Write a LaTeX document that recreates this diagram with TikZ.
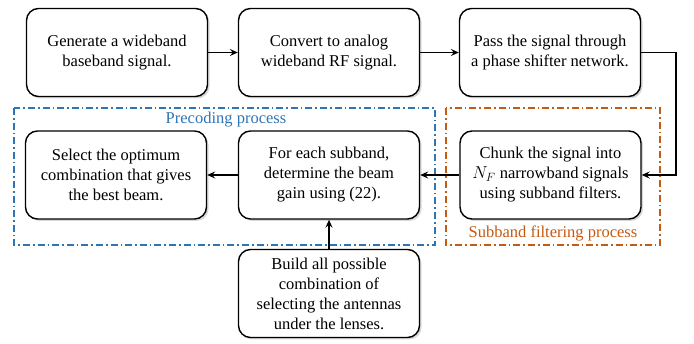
\documentclass[tikz,border=0pt]{standalone}
\usepackage{fontspec}
\setmainfont{Liberation Serif}
\usetikzlibrary{arrows.meta,shadows}
\definecolor{precblue}{RGB}{46,117,182}
\definecolor{filtorange}{RGB}{197,90,17}
\tikzset{
  stepbox/.style={draw=black, line width=1.4pt, rounded corners=12pt, fill=white,
    minimum width=181pt, minimum height=88pt, inner sep=0pt, align=center,
    font=\fontsize{16.5}{20}\selectfont,
    drop shadow={shadow xshift=2pt, shadow yshift=-2pt, opacity=0.3}},
  flow/.style={line width=1.3pt, -{Stealth[length=8pt,width=7pt,inset=3pt]}},
  groupframe/.style={line width=1.8pt, dash pattern=on 7pt off 3pt on 1.6pt off 3pt},
  grouplabel/.style={font=\fontsize{16.5}{20}\selectfont, inner sep=0pt}
}
\begin{document}
\begin{tikzpicture}[x=1pt,y=-1pt]
\useasboundingbox (0,0) rectangle (694,344);

% group frames
\draw[groupframe, precblue] (14,108) rectangle (435,245);
\draw[groupframe, filtorange] (446,108) rectangle (660,245);
\node[grouplabel, text=precblue] (plabel) at (226,120) {Precoding process};
\node[grouplabel, text=filtorange] (flabel) at (553,233) {Subband filtering process};

% processing steps
\node[stepbox] (gen) at (117,52.5) {Generate a wideband\\baseband signal.};
\node[stepbox] (conv) at (329,52.5) {Convert to analog\\wideband RF signal.};
\node[stepbox] (pass) at (550,52.5) {Pass the signal through\\a phase shifter network.};
\node[stepbox] (chunk) at (550.5,175) {Chunk the signal into\\$N_F$ narrowband signals\\using subband filters.};
\node[stepbox] (gain) at (329,175) {For each subband,\\determine the beam\\gain using (22).};
\node[stepbox] (select) at (116,175) {Select the optimum\\combination that gives\\the best beam.};
\node[stepbox] (build) at (329,293.5) {Build all possible\\combination of\\selecting the antennas\\under the lenses.};

% connectors
\coordinate (turn) at (676,175);
\draw[flow] (gen) -- (conv);
\draw[flow] (conv) -- (pass);
\draw[flow] (pass.east) -| (turn) -- (chunk.east);
\draw[flow] (chunk) -- (gain);
\draw[flow] (gain) -- (select);
\draw[flow] (build) -- (gain);
\end{tikzpicture}
\end{document}
